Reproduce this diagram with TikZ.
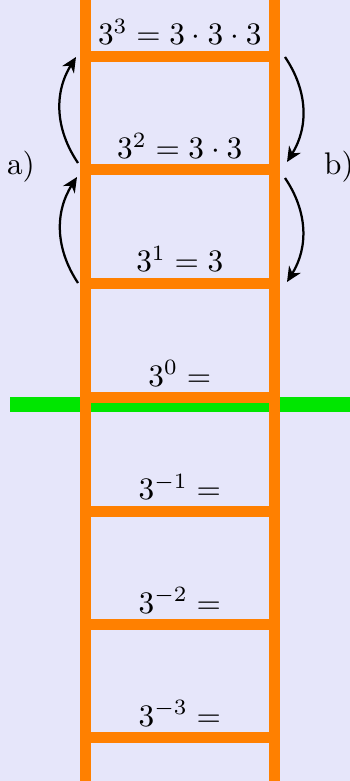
\documentclass[tikz,border=0pt]{standalone}
\usetikzlibrary{arrows.meta,calc}
\definecolor{bgc}{RGB}{230,230,250}
\definecolor{railc}{RGB}{255,128,0}
\definecolor{zeroc}{RGB}{0,230,0}
\begin{document}
\begin{tikzpicture}[x=0.32pt,y=-0.32pt,
  rail/.style={draw=railc,line width=3.52pt},
  zeroline/.style={draw=zeroc,line width=4.8pt},
  lbl/.style={anchor=base,inner sep=0pt},
  side/.style={anchor=base,inner sep=0pt},
  jump/.style={line width=0.72pt,-{Stealth[length=4.8pt,width=4.4pt,inset=1.5pt]},bend left=33}]
\fill[bgc] (0,0) rectangle (350,781);
\useasboundingbox (0,0) rectangle (350,781);
% zero line
\coordinate (gL) at (10,404.5);
\coordinate (gR) at (350,404.5);
\draw[zeroline] (gL) -- (gR);
% rails
\coordinate (lt) at (85.5,0); \coordinate (lb) at (85.5,781);
\coordinate (rt) at (274,0); \coordinate (rb) at (274,781);
% rungs
\foreach \n/\y in {r3/56.5,r2/170,r1/283.5,r0/397.5,rm1/511,rm2/624.5,rm3/737.5}{
  \coordinate (\n L) at (85.5,\y);
  \coordinate (\n R) at (274,\y);
  \draw[rail] (\n L) -- (\n R);
}
\draw[rail] (lt) -- (lb);
\draw[rail] (rt) -- (rb);
% labels
\node[lbl] (t3) at (179.75,45) {$3^3 = 3\cdot 3\cdot 3$};
\node[lbl] (t2) at (179.75,158.5) {$3^2 = 3\cdot 3$};
\node[lbl] (t1) at (179.75,272) {$3^1 = 3$};
\node[lbl] (t0) at (179.75,386) {$3^0 =$};
\node[lbl] (tm1) at (179.75,499.5) {$3^{-1} =$};
\node[lbl] (tm2) at (179.75,613) {$3^{-2} =$};
\node[lbl] (tm3) at (179.75,726) {$3^{-3} =$};
% side labels
\node[side] (a) at (21,175) {a)};
\node[side] (b) at (339,175) {b)};
% arrows
\coordinate (a1s) at (78,283); \coordinate (a1e) at (77,177);
\coordinate (a2s) at (78,163); \coordinate (a2e) at (76,57);
\coordinate (b1s) at (285,57); \coordinate (b1e) at (287,162);
\coordinate (b2s) at (285,178); \coordinate (b2e) at (287,282);
\draw[jump] (a1s) to (a1e);
\draw[jump] (a2s) to (a2e);
\draw[jump] (b1s) to (b1e);
\draw[jump] (b2s) to (b2e);
\end{tikzpicture}
\end{document}
